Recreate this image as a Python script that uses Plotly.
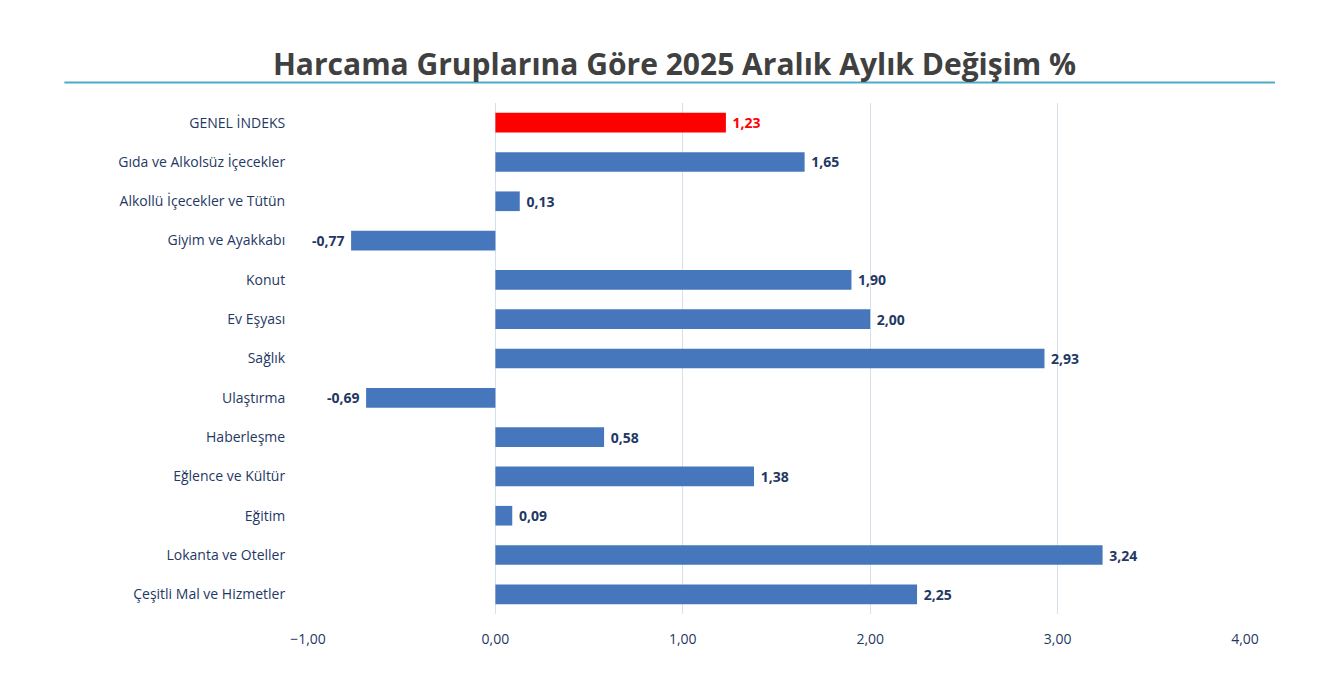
import plotly.graph_objects as go

categories = ["GENEL İNDEKS", "Gıda ve Alkolsüz İçecekler", "Alkollü İçecekler ve Tütün",
              "Giyim ve Ayakkabı", "Konut", "Ev Eşyası", "Sağlık", "Ulaştırma",
              "Haberleşme", "Eğlence ve Kültür", "Eğitim", "Lokanta ve Oteller",
              "Çeşitli Mal ve Hizmetler"]
values = [1.23, 1.65, 0.13, -0.77, 1.90, 2.00, 2.93, -0.69, 0.58, 1.38, 0.09, 3.24, 2.25]

colors = ["#ff0000" if c == "GENEL İNDEKS" else "#4677bd" for c in categories]
text_colors = ["#ff0000" if c == "GENEL İNDEKS" else "#1f3864" for c in categories]

fig = go.Figure(go.Bar(
    y=categories, x=values, orientation="h",
    marker=dict(color=colors, line=dict(width=0)),
    width=0.5,
    texttemplate="<b> %{x:.2f} </b>", textposition="outside", cliponaxis=False,
    textfont=dict(family="Open Sans", size=14, color=text_colors),
))

fig.update_layout(
    width=1333, height=700,
    paper_bgcolor="white", plot_bgcolor="white",
    separators=",.",
    margin=dict(l=300, r=96, t=95, b=94),
    title=dict(text="<b>Harcama Gruplarına Göre 2025 Aralık Aylık Değişim %</b>",
               x=0.5, xref="container", xanchor="center", y=0.92, yanchor="middle",
               font=dict(family="Open Sans", size=30, color="#404040")),
    showlegend=False,
    shapes=[dict(type="line", xref="paper", yref="paper", x0=-0.26, x1=1.032,
                 y0=1.04, y1=1.04, line=dict(color="#4bacc6", width=2))],
)
fig.update_xaxes(range=[-1, 4], dtick=1, tickformat=".2f", showgrid=True,
                 gridcolor="#d6e0ea", zeroline=False, showline=False,
                 tickfont=dict(family="Open Sans", size=14, color="#1f3864"),
                 ticks="outside", ticklen=12, tickcolor="white")
fig.update_yaxes(autorange="reversed", showgrid=False, zeroline=False, ticksuffix="      ",
                 tickfont=dict(family="Open Sans", size=14, color="#1f3864"))

fig.write_html("out.html")
